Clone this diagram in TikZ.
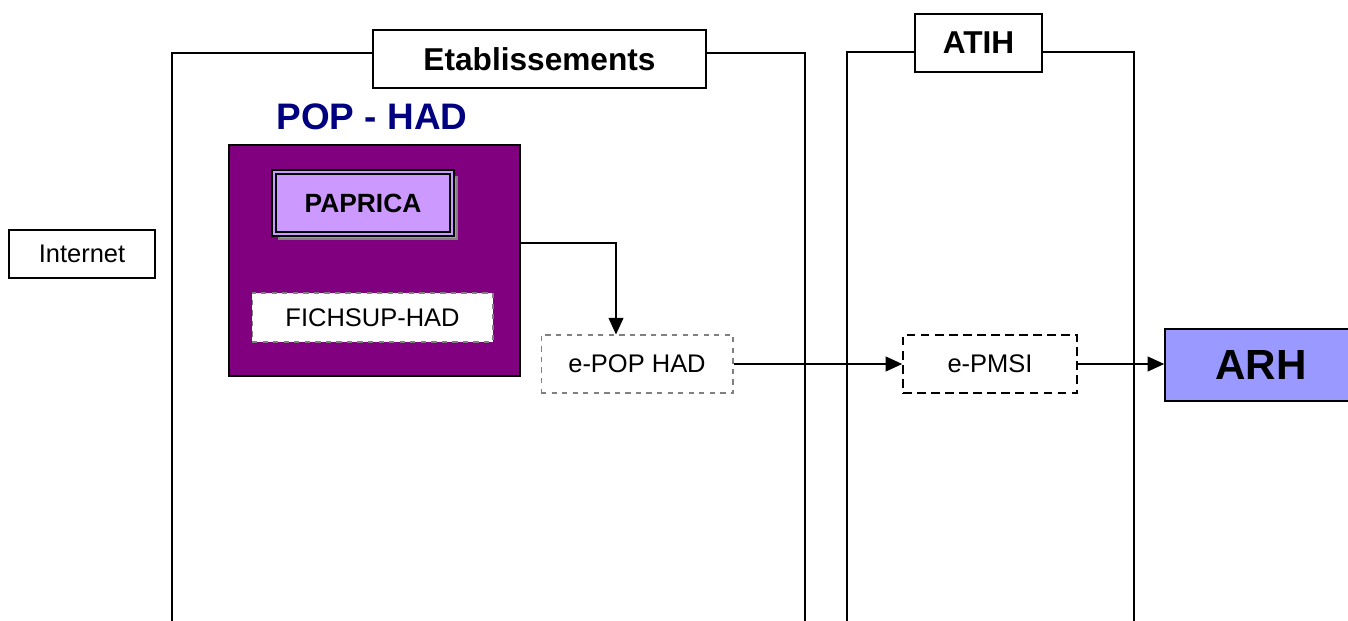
\documentclass[tikz,border=0pt]{standalone}
\usepackage{xcolor}
\usepackage{fontspec}
\setmainfont{Liberation Sans}
\usepackage{tikz}
\usetikzlibrary{arrows.meta,positioning,calc,shadows}

\definecolor{popviolet}{HTML}{800080}
\definecolor{papricalilac}{HTML}{CC99FF}
\definecolor{arhblue}{HTML}{9999FF}
\definecolor{popnavy}{HTML}{000080}

\begin{document}
\begin{tikzpicture}[
    x=0.02cm, y=-0.02cm,
    frame/.style={draw, line width=1pt},
    title/.style={rectangle, draw, fill=white, line width=1pt, minimum height=1.16cm, font=\fontsize{18}{20}\selectfont\bfseries},
    plain/.style={rectangle, draw, line width=0.8pt, font=\fontsize{14.5}{16}\selectfont},
    file/.style={rectangle, draw=gray, fill=white, dashed, line width=0.6pt, font=\fontsize{14.5}{16}\selectfont},
    portal/.style={rectangle, draw, fill=white, dashed, dash pattern=on 5pt off 3pt, line width=0.9pt, font=\fontsize{14.5}{16}\selectfont},
    arrow/.style={-{Triangle[length=9.5pt,width=8.5pt]}, line width=0.85pt}
]
    \useasboundingbox (0,0) rectangle (1348,621);

    % Frames
    \draw[frame] (172,640) -- (172,53) -- (805,53) -- (805,640);
    \draw[frame] (847,640) -- (847,52) -- (1134,52) -- (1134,640);
    \node[title, minimum width=6.66cm] (etab) at (539.5,59) {Etablissements};
    \node[title, minimum width=2.54cm] (atih) at (978.5,43) {ATIH};

    % Internet
    \node[plain, minimum width=2.92cm, minimum height=0.96cm] (internet) at (82,254) {Internet};

    % POP - HAD
    \node[text=popnavy, font=\fontsize{21}{24}\selectfont\bfseries] (poptitle) at (372,117) {POP - HAD};
    \node[rectangle, draw, fill=popviolet, line width=0.8pt, minimum width=5.82cm, minimum height=4.62cm] (pop) at (374.5,260.5) {};
    \node[rectangle, draw, line width=1pt, double=papricalilac, double distance=1.5pt, fill=papricalilac,
          minimum width=3.56cm, minimum height=1.24cm, font=\fontsize{15}{17}\selectfont\bfseries,
          drop shadow={shadow xshift=2.8pt, shadow yshift=-2.8pt, opacity=1, fill=gray!75, draw=gray}] (paprica) at (363,203) {PAPRICA};
    \node[file, minimum width=4.82cm, minimum height=0.98cm] (fichsup) at (372.5,317.5) {FICHSUP-HAD};

    % Transmission
    \node[file, minimum width=3.84cm, minimum height=1.16cm] (epop) at (637,364) {e-POP HAD};
    \node[portal, minimum width=3.48cm, minimum height=1.16cm] (epmsi) at (990,364) {e-PMSI};
    \node[rectangle, draw, fill=arhblue, line width=0.9pt, minimum width=3.84cm, minimum height=1.44cm,
          font=\fontsize{24}{28}\selectfont\bfseries] (arh) at (1261,365) {ARH};

    % Arrows
    \draw[arrow] ([yshift=0.35cm]pop.east) -| ([xshift=-0.42cm]epop.north);
    \draw[arrow] (epop.east) -- (epmsi.west);
    \draw[arrow] (epmsi.east) -- (epmsi.east -| arh.west);
\end{tikzpicture}
\end{document}
